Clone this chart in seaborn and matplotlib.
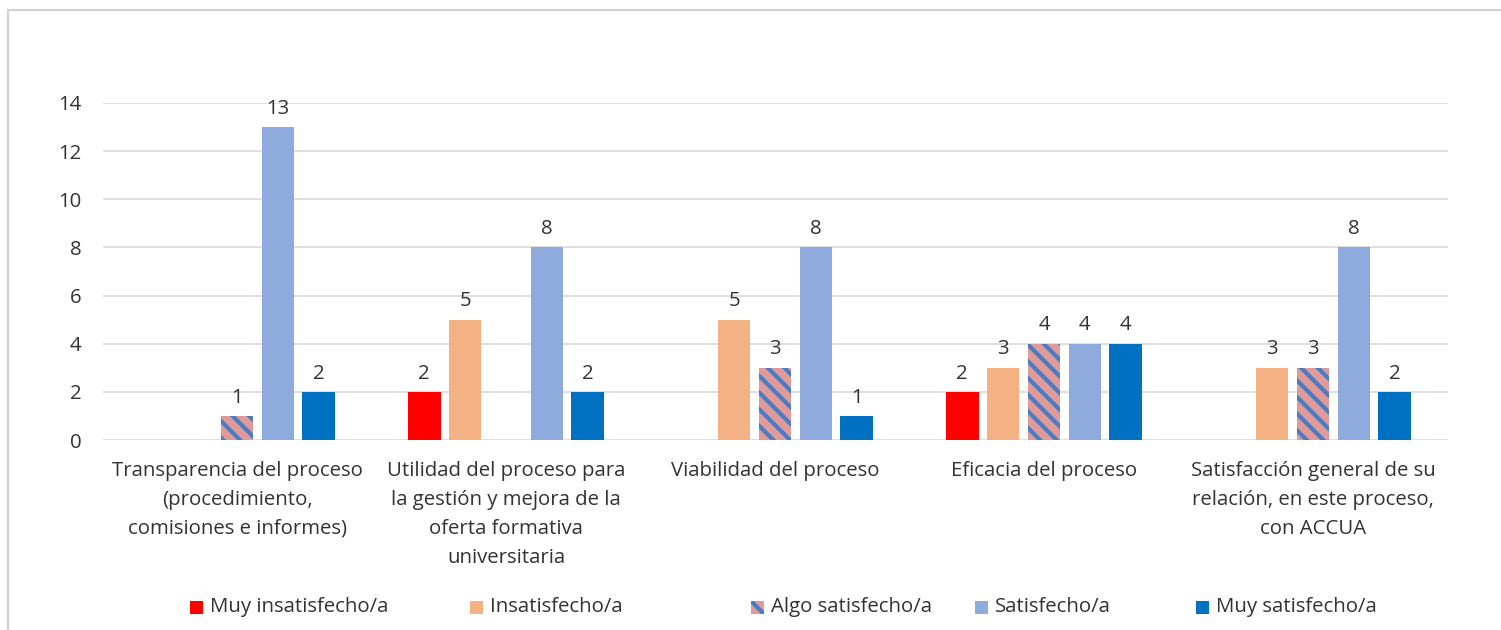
import matplotlib
matplotlib.use("Agg")
import matplotlib.pyplot as plt
import matplotlib.patches as mpatches
import seaborn as sns
import pandas as pd
import numpy as np

categories = [
    "Transparencia del proceso\n(procedimiento,\ncomisiones e informes)",
    "Utilidad del proceso para\nla gestión y mejora de la\noferta formativa\nuniversitaria",
    "Viabilidad del proceso",
    "Eficacia del proceso",
    "Satisfacción general de su\nrelación, en este proceso,\ncon ACCUA",
]
series_names = ["Muy insatisfecho/a", "Insatisfecho/a", "Algo satisfecho/a",
                "Satisfecho/a", "Muy satisfecho/a"]
muy_insatisfecho = [0, 2, 0, 2, 0]
insatisfecho = [0, 5, 5, 3, 3]
algo_satisfecho = [1, 0, 3, 4, 3]
satisfecho = [13, 8, 8, 4, 8]
muy_satisfecho = [2, 2, 1, 4, 2]
yticks = [0, 2, 4, 6, 8, 10, 12, 14]

values = [muy_insatisfecho, insatisfecho, algo_satisfecho, satisfecho, muy_satisfecho]
colors = ["#FF0000", "#F4B183", "#E09A9A", "#8FAADC", "#0070C0"]
stripe_color = "#4A7CC4"
HATCH = "\\\\"

rows = []
for name, vals in zip(series_names, values):
    for cat, v in zip(categories, vals):
        rows.append({"cat": cat, "serie": name, "val": v})
df = pd.DataFrame(rows)

sns.set_theme(style="white")
plt.rcParams['font.family'] = ['Open Sans', 'DejaVu Sans']
plt.rcParams['hatch.linewidth'] = 3.0
text_color = "#333333"
FS = 14.7

fig = plt.figure(figsize=(15.01, 6.30), dpi=100)
fig.patch.set_facecolor("white")
ax = fig.add_axes([102.5 / 1501, 1 - 440 / 630, 1345 / 1501, 337 / 630])

sns.barplot(data=df, x="cat", y="val", hue="serie", order=categories,
            hue_order=series_names, palette=colors, width=0.76, gap=0.2,
            saturation=1, legend=False, ax=ax, linewidth=0)

for i, cont in enumerate(ax.containers):
    for bar in cont:
        if i == 2:
            bar.set_hatch(HATCH)
            bar.set_edgecolor(stripe_color)
            bar.set_linewidth(0)
    labels = [str(int(v)) if v != 0 else "" for v in values[i]]
    ax.bar_label(cont, labels=labels, padding=6, fontsize=FS, color=text_color)

ax.set_ylim(0, 14)
ax.set_xlim(-0.5, 4.5)
ax.set_yticks(yticks)
ax.yaxis.grid(True, color="#D9D9D9", linewidth=1.2)
ax.set_axisbelow(True)
for s in ax.spines.values():
    s.set_visible(False)
ax.set_xlabel("")
ax.set_ylabel("")
ax.tick_params(axis="y", length=0, pad=15, labelsize=FS, labelcolor=text_color)
ax.tick_params(axis="x", length=0, pad=15, labelsize=FS, labelcolor=text_color)
for lbl in ax.get_xticklabels():
    lbl.set_linespacing(1.6)
    lbl.set_verticalalignment("top")

# legend, drawn item by item to follow the reference spacing
legend_x = [190, 470, 751, 975, 1196]
for i, (name, c, lx) in enumerate(zip(series_names, colors, legend_x)):
    kw = dict(facecolor=c, linewidth=0, transform=fig.transFigure)
    if i == 2:
        kw.update(edgecolor=stripe_color, hatch=HATCH)
    sq = mpatches.Rectangle((lx / 1501, 1 - 614 / 630), 13 / 1501, 13 / 630, **kw)
    fig.patches.append(sq)
    fig.text((lx + 20) / 1501, 1 - 607 / 630, name, fontsize=FS, color=text_color,
             va="center", ha="left")

border = mpatches.Rectangle((8 / 1501, -0.05), 1.2, 1 - 10 / 630 + 0.05,
                            transform=fig.transFigure, fill=False,
                            edgecolor="#D0D0D0", linewidth=1.5)
fig.patches.append(border)

fig.savefig("out.png", dpi=100)
